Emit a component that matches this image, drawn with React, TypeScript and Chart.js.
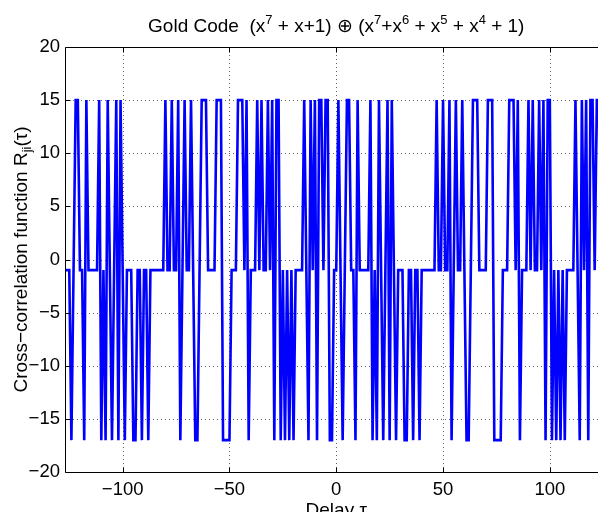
import React, { useEffect, useRef } from "react";
import { Chart, registerables } from "chart.js";

Chart.register(...registerables);

// Delay axis: tau = -127 .. 127
const DELAY: number[] = Array.from({ length: 255 }, (_, i) => i - 127);

// Cross-correlation values (tau = -127 .. 127)
const R_JI: number[] = [
  // tau -127 .. -1
  -1, -1, -1, -17, -1, 15, 15, -1, -1, -17,
  15, -1, -1, -1, -1, -1, 15, -17, -1, -17,
  15, -1, -17, -1, 15, -17, 15, -1, -17, -1,
  -1, -1, -17, -17, -1, -1, -17, -1, -1, -17,
  -1, -1, -1, -1, -1, -1, -1, 15, -1, -1,
  15, -1, -1, 15, -17, -1, 15, -1, -1, 15,
  -1, -17, -17, -1, 15, 15, 15, -1, -1, -1,
  -1, 15, 15, 15, -17, -17, -17, -17, -1, -1,
  -1, 15, 15, 15, -1, 15, -17, -1, -1, -1,
  15, -1, 15, -1, -1, 15, -1, 15, -17, 15,
  15, -17, -1, -17, -1, -17, -1, -17, -1, -1,
  -1, -1, 15, -1, -17, 15, -1, 15, -17, 15,
  15, -1, 15, 15, -17, -17, -1,
  // tau 0 .. 126
  -1, 15, -1, -17, -1, 15, 15, -1, -1, -17,
  15, -1, -1, -1, -1, -1, 15, -17, -1, -17,
  15, -1, -17, -1, 15, -17, 15, -1, -17, -1,
  -1, -1, -17, -17, -1, -1, -17, -1, -1, -17,
  -1, -1, -1, -1, -1, -1, -1, 15, -1, -1,
  15, -1, -1, 15, -17, -1, 15, -1, -1, 15,
  -1, -17, -17, -1, 15, 15, 15, -1, -1, -1,
  -1, 15, 15, 15, -17, -17, -17, -17, -1, -1,
  -1, 15, 15, 15, -1, 15, -17, -1, -1, -1,
  15, -1, 15, -1, -1, 15, -1, 15, -17, 15,
  15, -17, -1, -17, -1, -17, -1, -17, -1, -1,
  -1, -1, 15, -1, -17, 15, -1, 15, -17, 15,
  15, -1, 15, 15, -17, -17, -1,
  // tau 127
  -1,
];

const X_TICKS = [-100, -50, 0, 50, 100];
const Y_TICKS = [-20, -15, -10, -5, 0, 5, 10, 15, 20];
const X_MIN = -127;
const X_MAX = 127;
const Y_MIN = -20;
const Y_MAX = 20;

const TITLE_PARTS: [string, boolean][] = [
  ["Gold Code  (x", false], ["7", true], [" + x+1) \u2295 (x", false], ["7", true],
  ["+x", false], ["6", true], [" + x", false], ["5", true], [" + x", false], ["4", true], [" + 1)", false],
];
const Y_LABEL_PARTS: [string, string][] = [
  ["Cross\u2212correlation function R", "n"], ["ji", "sub"], ["(\u03c4)", "n"],
];
const X_LABEL = "Delay \u03c4";

const FONT_FAMILY = "'Liberation Sans', Arial, Helvetica, sans-serif";
const TICK_FONT_SIZE = 18.5;
const LABEL_FONT_SIZE = 19;

const fmt = (v: number) => (v < 0 ? "\u2212" + Math.abs(v) : String(v));

const matlabAxes = {
  id: "matlabAxes",
  beforeDatasetsDraw(chart: any) {
    const { ctx, chartArea, scales } = chart;
    const { left, right, top, bottom } = chartArea;
    ctx.save();
    ctx.strokeStyle = "rgba(0,0,0,0.6)";
    ctx.lineWidth = 1;
    ctx.setLineDash([1, 3]);
    for (const v of X_TICKS) {
      const px = Math.round(scales.x.getPixelForValue(v)) + 0.5;
      ctx.beginPath();
      ctx.moveTo(px, top);
      ctx.lineTo(px, bottom);
      ctx.stroke();
    }
    for (const v of Y_TICKS) {
      if (v === Y_MIN || v === Y_MAX) continue;
      const py = Math.round(scales.y.getPixelForValue(v)) + 0.5;
      ctx.beginPath();
      ctx.moveTo(left, py);
      ctx.lineTo(right, py);
      ctx.stroke();
    }
    ctx.restore();
  },
  afterDatasetsDraw(chart: any) {
    const { ctx, chartArea, scales } = chart;
    const { left, right, top, bottom } = chartArea;
    ctx.save();
    ctx.setLineDash([]);
    ctx.strokeStyle = "#000";
    ctx.lineWidth = 1;
    const L = Math.round(left) + 0.5;
    const R = Math.round(right) + 0.5;
    const T = Math.round(top) + 0.5;
    const B = Math.round(bottom) + 0.5;
    ctx.beginPath();
    ctx.rect(L, T, R - L, B - T);
    ctx.stroke();
    const tl = 5;
    for (const v of X_TICKS) {
      const px = Math.round(scales.x.getPixelForValue(v)) + 0.5;
      ctx.beginPath();
      ctx.moveTo(px, B);
      ctx.lineTo(px, B - tl);
      ctx.moveTo(px, T);
      ctx.lineTo(px, T + tl);
      ctx.stroke();
    }
    for (const v of Y_TICKS) {
      const py = Math.round(scales.y.getPixelForValue(v)) + 0.5;
      ctx.beginPath();
      ctx.moveTo(L, py);
      ctx.lineTo(L + tl, py);
      ctx.moveTo(R, py);
      ctx.lineTo(R - tl, py);
      ctx.stroke();
    }

    // Title with superscripts
    ctx.fillStyle = "#000";
    ctx.textBaseline = "alphabetic";
    ctx.textAlign = "left";
    const big = `${LABEL_FONT_SIZE}px ${FONT_FAMILY}`;
    const small = `${Math.round(LABEL_FONT_SIZE * 0.68)}px ${FONT_FAMILY}`;
    let total = 0;
    for (const [t, sup] of TITLE_PARTS) {
      ctx.font = sup ? small : big;
      total += ctx.measureText(t).width;
    }
    const cx = (left + right) / 2;
    let x = cx - total / 2;
    const baseY = 32;
    for (const [t, sup] of TITLE_PARTS) {
      ctx.font = sup ? small : big;
      ctx.fillText(t, x, sup ? baseY - LABEL_FONT_SIZE * 0.42 : baseY);
      x += ctx.measureText(t).width;
    }

    // X label
    ctx.font = big;
    ctx.textAlign = "center";
    ctx.fillText(X_LABEL, cx, 516);

    // Y label (rotated) with subscript
    ctx.save();
    const cy = (top + bottom) / 2;
    ctx.translate(22, cy);
    ctx.rotate(-Math.PI / 2);
    ctx.textAlign = "left";
    ctx.textBaseline = "middle";
    let w = 0;
    for (const [t, k] of Y_LABEL_PARTS) {
      ctx.font = k === "sub" ? small : big;
      w += ctx.measureText(t).width;
    }
    let yx = -w / 2;
    for (const [t, k] of Y_LABEL_PARTS) {
      ctx.font = k === "sub" ? small : big;
      ctx.fillText(t, yx, k === "sub" ? LABEL_FONT_SIZE * 0.3 : 0);
      yx += ctx.measureText(t).width;
    }
    ctx.restore();
    ctx.restore();
  },
};

export default function App() {
  const ref = useRef<HTMLCanvasElement>(null);
  useEffect(() => {
    const canvas = ref.current;
    if (!canvas) return;
    const points = DELAY.map((d, i) => ({ x: d, y: R_JI[i] }));
    const chart = new Chart(canvas, {
      type: "line",
      data: {
        datasets: [
          {
            data: points,
            borderColor: "#0000ff",
            borderWidth: 2.6,
            pointRadius: 0,
            tension: 0,
            fill: false,
            borderJoinStyle: "miter",
          } as any,
        ],
      },
      options: {
        responsive: false,
        animation: false,
        devicePixelRatio: 1,
        layout: { padding: { left: 0, right: 32.5, top: 47, bottom: 0 } },
        plugins: {
          legend: { display: false },
          tooltip: { enabled: false },
          title: { display: false },
        },
        scales: {
          x: {
            type: "linear",
            min: X_MIN,
            max: X_MAX,
            afterBuildTicks: (s: any) => {
              s.ticks = X_TICKS.map((v) => ({ value: v }));
            },
            afterFit: (s: any) => {
              s.height = 40;
            },
            grid: { drawOnChartArea: false, drawTicks: false },
            border: { display: false },
            ticks: {
              padding: 7,
              color: "#000",
              font: { family: FONT_FAMILY, size: TICK_FONT_SIZE },
              maxRotation: 0,
              autoSkip: false,
              callback: (v: any) => fmt(Number(v)),
            },
          },
          y: {
            type: "linear",
            min: Y_MIN,
            max: Y_MAX,
            afterBuildTicks: (s: any) => {
              s.ticks = Y_TICKS.map((v) => ({ value: v }));
            },
            afterFit: (s: any) => {
              s.width = 65;
            },
            grid: { drawOnChartArea: false, drawTicks: false },
            border: { display: false },
            ticks: {
              padding: 5,
              color: "#000",
              font: { family: FONT_FAMILY, size: TICK_FONT_SIZE },
              autoSkip: false,
              callback: (v: any) => fmt(Number(v)),
            },
          },
        },
      },
      plugins: [matlabAxes],
    });
    return () => chart.destroy();
  }, []);
  return (
    <div
      style={{
        position: "absolute",
        left: 0,
        top: 0,
        width: 598,
        height: 512,
        overflow: "hidden",
        background: "#fff",
      }}
    >
      <canvas ref={ref} width={640} height={512} style={{ display: "block" }} />
    </div>
  );
}
